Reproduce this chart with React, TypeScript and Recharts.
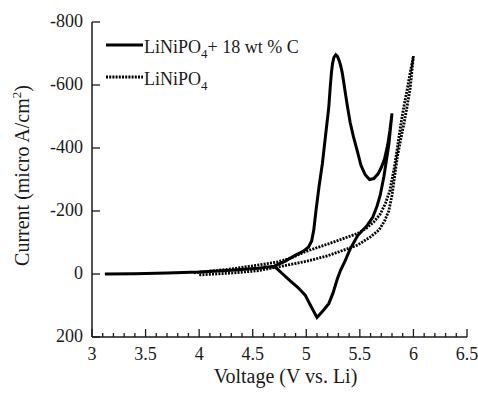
import React from 'react';
import { LineChart, Line, XAxis, YAxis, Legend } from 'recharts';

// cyclic voltammetry scans, points kept in scan order (forward then reverse)
const carbonVoltage = [
  3.12, 3.4, 3.7, 4.0, 4.3, 4.55, 4.7, 4.8, 4.9, 4.97, 5.02, 5.05, 5.07, 5.09, 5.12, 5.15, 5.18,
  5.21, 5.225, 5.235, 5.245, 5.258, 5.275, 5.292, 5.308, 5.322, 5.335, 5.348, 5.362, 5.385, 5.41,
  5.44, 5.48, 5.51, 5.55, 5.59, 5.63, 5.67, 5.7, 5.73, 5.76, 5.78, 5.8,
  5.77, 5.725, 5.69, 5.66, 5.62, 5.57, 5.48, 5.41, 5.36, 5.32, 5.29, 5.25, 5.21, 5.16, 5.1, 5.04,
  4.99, 4.92, 4.85, 4.78, 4.71, 4.6,
];
const carbonCurrent = [
  0, -1, -3, -6, -12, -18, -25, -40, -60, -72, -85, -105, -140, -200, -280, -350, -440,
  -530, -600, -640, -668, -688, -696, -690, -676, -660, -640, -612, -580, -530, -480,
  -436, -385, -345, -315, -300, -303, -318, -338, -365, -410, -455, -510,
  -410, -310, -250, -215, -180, -155, -122, -80, -40, -12, 15, 60, 94, 115, 138, 100,
  67, 42, 22, 0, -22, -22,
];

const bareVoltage = [
  3.95, 4.1, 4.3, 4.54, 4.73, 4.85, 5.0, 5.2, 5.35, 5.48, 5.56, 5.63, 5.69, 5.74, 5.78, 5.82,
  5.85, 5.88, 5.91, 5.944, 5.97, 6.0,
  5.985, 5.97, 5.94, 5.912, 5.88, 5.85, 5.825, 5.8, 5.77, 5.73, 5.68, 5.6, 5.48, 5.35, 5.2, 5.0,
  4.85, 4.73, 4.54, 4.3, 4.0,
];
const bareCurrent = [
  -4, -9, -16, -28, -38, -50, -72, -95, -113, -129, -145, -165, -190, -225, -265, -335,
  -400, -470, -530, -590, -640, -692,
  -640, -590, -530, -478, -425, -372, -310, -250, -200, -168, -140, -118, -92, -76, -58, -40,
  -30, -22, -10, -3, 3,
];

const xMajor = [3, 3.5, 4, 4.5, 5, 5.5, 6, 6.5];
const xTicks = [
  3, 3.1, 3.2, 3.3, 3.4, 3.5, 3.6, 3.7, 3.8, 3.9, 4, 4.1, 4.2, 4.3, 4.4, 4.5, 4.6, 4.7, 4.8, 4.9,
  5, 5.1, 5.2, 5.3, 5.4, 5.5, 5.6, 5.7, 5.8, 5.9, 6, 6.1, 6.2, 6.3, 6.4, 6.5,
];
const yTicks = [-800, -600, -400, -200, 0, 200];

const carbonData = carbonVoltage.map((v, k) => ({ v, i: carbonCurrent[k] }));
const bareData = bareVoltage.map((v, k) => ({ v, i: bareCurrent[k] }));

const FONT = '"Liberation Serif", "Times New Roman", serif';
const INK = '#1a1a1a';

const isMajor = (val: number) => xMajor.some((m) => Math.abs(m - val) < 1e-6);

const BottomTick = (props: any) => {
  const { x, y, payload } = props;
  const major = isMajor(payload.value);
  return (
    <g>
      <line x1={x} y1={y} x2={x} y2={y - (major ? 8 : 4)} stroke={INK} strokeWidth={1.3} />
      {major && (
        <text x={x} y={y + 23} textAnchor="middle" fontFamily={FONT} fontSize={18} fill={INK}>
          {payload.value}
        </text>
      )}
    </g>
  );
};

const TopTick = (props: any) => {
  const { x, y, payload } = props;
  const major = isMajor(payload.value);
  return <line x1={x} y1={y} x2={x} y2={y + (major ? 8 : 4)} stroke={INK} strokeWidth={1.3} />;
};

const LeftTick = (props: any) => {
  const { x, y, payload } = props;
  return (
    <g>
      <line x1={x} y1={y} x2={x + 8} y2={y} stroke={INK} strokeWidth={1.3} />
      <text x={x - 9} y={y + 5} textAnchor="end" fontFamily={FONT} fontSize={18} fill={INK}>
        {payload.value}
      </text>
    </g>
  );
};

const RightTick = (props: any) => {
  const { x, y } = props;
  return <line x1={x} y1={y} x2={x - 8} y2={y} stroke={INK} strokeWidth={1.3} />;
};

const LegendBox = () => (
  <svg width={230} height={70} style={{ display: 'block', overflow: 'visible' }}>
    <line x1={6} y1={15} x2={43} y2={15} stroke="#000" strokeWidth={3} />
    <text x={44} y={23} fontFamily={FONT} fontSize={18} fill={INK}>
      LiNiPO
      <tspan fontSize={13} dy={5}>4</tspan>
      <tspan dy={-5}>+ 18 wt % C</tspan>
    </text>
    <line x1={6} y1={47} x2={43} y2={47} stroke="#000" strokeWidth={3} strokeDasharray="2 1.2" />
    <text x={44} y={55} fontFamily={FONT} fontSize={18} fill={INK}>
      LiNiPO
      <tspan fontSize={13} dy={5}>4</tspan>
    </text>
  </svg>
);

export default function App() {
  return (
    <div style={{ position: 'absolute', left: 0, top: 0 }}>
      <LineChart width={478} height={393} margin={{ top: 22, right: 11, bottom: 11, left: 22 }}>
        <XAxis
          dataKey="v"
          type="number"
          domain={[3, 6.5]}
          ticks={xTicks}
          interval={0}
          allowDataOverflow
          tickSize={0}
          tickMargin={0}
          tickLine={false}
          tick={<BottomTick />}
          height={45}
          axisLine={{ stroke: INK, strokeWidth: 1.5 }}
          label={({ viewBox }: any) => (
            <text
              x={viewBox.x + viewBox.width / 2 + 6}
              y={viewBox.y + 46}
              textAnchor="middle"
              fontFamily={FONT}
              fontSize={20}
              fill={INK}
            >
              Voltage (V vs. Li)
            </text>
          )}
        />
        <XAxis
          xAxisId="top"
          orientation="top"
          dataKey="v"
          type="number"
          domain={[3, 6.5]}
          ticks={xTicks}
          interval={0}
          tickSize={0}
          tickMargin={0}
          tickLine={false}
          tick={<TopTick />}
          height={0}
          axisLine={{ stroke: INK, strokeWidth: 1.5 }}
        />
        <YAxis
          type="number"
          domain={[-800, 200]}
          ticks={yTicks}
          reversed
          interval={0}
          allowDataOverflow
          tickSize={0}
          tickMargin={0}
          tickLine={false}
          tick={<LeftTick />}
          width={70}
          axisLine={{ stroke: INK, strokeWidth: 1.5 }}
          label={({ viewBox }: any) => {
            const cx = viewBox.x + 7;
            const cy = viewBox.y + viewBox.height / 2 - 4;
            return (
              <text
                x={cx}
                y={cy}
                transform={`rotate(-90 ${cx} ${cy})`}
                textAnchor="middle"
                fontFamily={FONT}
                fontSize={20}
                fill={INK}
              >
                Current (micro A/cm
                <tspan fontSize={13} dy={-8}>2</tspan>
                <tspan dy={8}>)</tspan>
              </text>
            );
          }}
        />
        <YAxis
          yAxisId="right"
          orientation="right"
          type="number"
          domain={[-800, 200]}
          ticks={yTicks}
          reversed
          interval={0}
          tickSize={0}
          tickMargin={0}
          tickLine={false}
          tick={<RightTick />}
          width={0}
          axisLine={{ stroke: INK, strokeWidth: 1.5 }}
        />
        <Legend
          layout="vertical"
          align="center"
          verticalAlign="middle"
          wrapperStyle={{ left: 100, top: 30, width: 230, height: 70 }}
          content={() => <LegendBox />}
        />
        <Line
          data={carbonData}
          dataKey="i"
          name="LiNiPO4+ 18 wt % C"
          type="linear"
          stroke="#000"
          strokeWidth={3}
          dot={false}
          isAnimationActive={false}
        />
        <Line
          data={bareData}
          dataKey="i"
          name="LiNiPO4"
          type="linear"
          stroke="#000"
          strokeWidth={2.8}
          strokeDasharray="2 1.2"
          dot={false}
          isAnimationActive={false}
        />
      </LineChart>
    </div>
  );
}
